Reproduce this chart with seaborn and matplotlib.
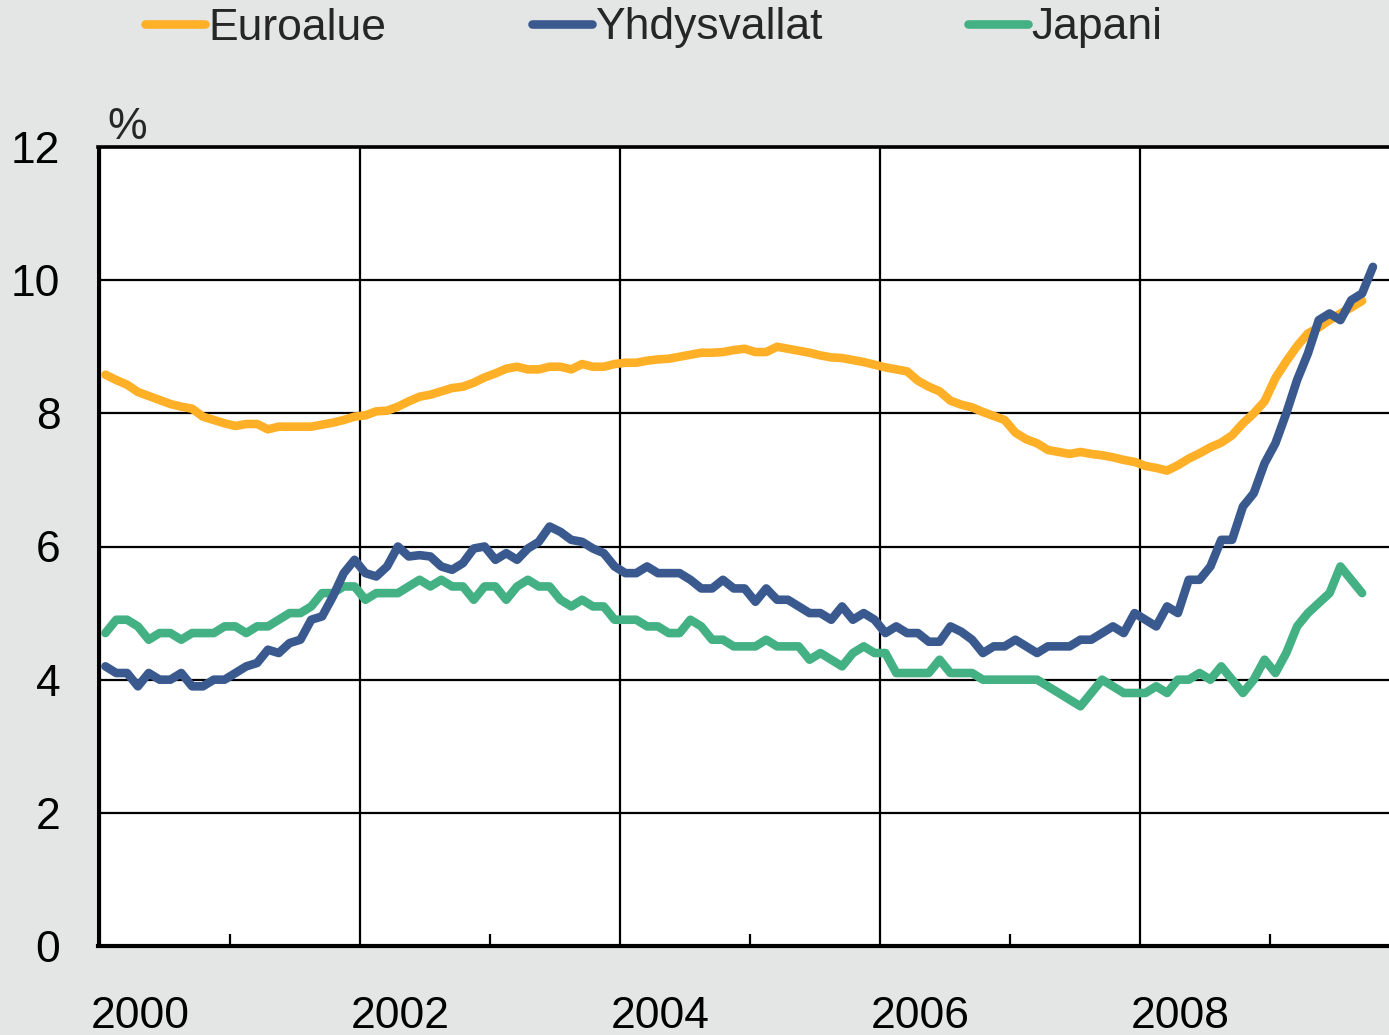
import numpy as np
import pandas as pd
import seaborn as sns
import matplotlib.pyplot as plt
from matplotlib.transforms import ScaledTranslation

# Monthly unemployment rates (%), starting January 2000
euro = [8.58, 8.50, 8.43, 8.32, 8.26, 8.20, 8.14, 8.10, 8.07, 7.95, 7.90, 7.85,
        7.81, 7.84, 7.84, 7.76, 7.80, 7.80, 7.80, 7.80, 7.83, 7.86, 7.90, 7.95,
        7.97, 8.03, 8.04, 8.10, 8.18, 8.25, 8.28, 8.33, 8.38, 8.40, 8.46, 8.54,
        8.60, 8.67, 8.70, 8.66, 8.66, 8.70, 8.70, 8.66, 8.74, 8.70, 8.70, 8.74,
        8.76, 8.76, 8.79, 8.81, 8.82, 8.85, 8.88, 8.91, 8.91, 8.92, 8.95, 8.97,
        8.92, 8.92, 9.00, 8.97, 8.94, 8.91, 8.87, 8.84, 8.83, 8.80, 8.77, 8.73,
        8.69, 8.66, 8.63, 8.49, 8.40, 8.33, 8.19, 8.13, 8.09, 8.02, 7.96, 7.90,
        7.71, 7.61, 7.55, 7.45, 7.42, 7.39, 7.42, 7.39, 7.37, 7.34, 7.30, 7.27,
        7.21, 7.18, 7.14, 7.22, 7.32, 7.40, 7.49, 7.56, 7.67, 7.85, 8.00, 8.18,
        8.53, 8.78, 9.01, 9.20, 9.29, 9.40, 9.50, 9.59, 9.69]

usa = [4.2, 4.1, 4.1, 3.9, 4.1, 4.0, 4.0, 4.1, 3.9, 3.9, 4.0, 4.0,
       4.1, 4.2, 4.25, 4.45, 4.4, 4.55, 4.6, 4.9, 4.95, 5.25, 5.6, 5.8,
       5.6, 5.55, 5.7, 6.0, 5.85, 5.87, 5.85, 5.7, 5.65, 5.75, 5.97, 6.0,
       5.8, 5.9, 5.8, 5.97, 6.07, 6.3, 6.22, 6.1, 6.07, 5.97, 5.9, 5.7,
       5.6, 5.6, 5.7, 5.6, 5.6, 5.6, 5.5, 5.37, 5.37, 5.5, 5.37, 5.37,
       5.17, 5.37, 5.2, 5.2, 5.1, 5.0, 5.0, 4.9, 5.1, 4.9, 5.0, 4.9,
       4.7, 4.8, 4.7, 4.7, 4.57, 4.57, 4.8, 4.72, 4.6, 4.4, 4.5, 4.5,
       4.6, 4.5, 4.4, 4.5, 4.5, 4.5, 4.6, 4.6, 4.7, 4.8, 4.7, 5.0,
       4.9, 4.8, 5.1, 5.0, 5.5, 5.5, 5.7, 6.1, 6.1, 6.6, 6.8, 7.25,
       7.55, 8.0, 8.5, 8.9, 9.4, 9.5, 9.4, 9.7, 9.8, 10.2]

japan = [4.7, 4.9, 4.9, 4.8, 4.6, 4.7, 4.7, 4.6, 4.7, 4.7, 4.7, 4.8,
         4.8, 4.7, 4.8, 4.8, 4.9, 5.0, 5.0, 5.1, 5.3, 5.3, 5.4, 5.4,
         5.2, 5.3, 5.3, 5.3, 5.4, 5.5, 5.4, 5.5, 5.4, 5.4, 5.2, 5.4,
         5.4, 5.2, 5.4, 5.5, 5.4, 5.4, 5.2, 5.1, 5.2, 5.1, 5.1, 4.9,
         4.9, 4.9, 4.8, 4.8, 4.7, 4.7, 4.9, 4.8, 4.6, 4.6, 4.5, 4.5,
         4.5, 4.6, 4.5, 4.5, 4.5, 4.3, 4.4, 4.3, 4.2, 4.4, 4.5, 4.4,
         4.4, 4.1, 4.1, 4.1, 4.1, 4.3, 4.1, 4.1, 4.1, 4.0, 4.0, 4.0,
         4.0, 4.0, 4.0, 3.9, 3.8, 3.7, 3.6, 3.8, 4.0, 3.9, 3.8, 3.8,
         3.8, 3.9, 3.8, 4.0, 4.0, 4.1, 4.0, 4.2, 4.0, 3.8, 4.0, 4.3,
         4.1, 4.4, 4.8, 5.0, 5.15, 5.3, 5.7, 5.5, 5.3]

series_names = ["Euroalue", "Yhdysvallat", "Japani"]
series_values = [euro, usa, japan]
colors = ["#FFB027", "#3A5A8F", "#44B184"]
zorders = [3, 4, 2]

year_ticks = [2000, 2002, 2004, 2006, 2008]
year_labels = ["2000", "2002", "2004", "2006", "2008"]
odd_years = [2001, 2003, 2005, 2007, 2009]
y_ticks = [0, 2, 4, 6, 8, 10, 12]

rows = []
for name, vals in zip(series_names, series_values):
    for i, v in enumerate(vals):
        rows.append({"series": name, "year": 2000 + (i + 0.5) / 12, "value": v})
df = pd.DataFrame(rows)

sns.set_theme(style="white")
plt.rcParams["font.family"] = ["Liberation Sans", "DejaVu Sans"]

W, H = 1389, 1035
fig = plt.figure(figsize=(W / 100, H / 100), dpi=100, facecolor="#E4E6E5")
ax = fig.add_axes([98 / W, 1 - 946 / H, 1 - 98 / W, (946 - 147) / H])
ax.set_facecolor("white")

for name, col, z in zip(series_names, colors, zorders):
    sns.lineplot(data=df[df["series"] == name], x="year", y="value", ax=ax,
                 color=col, lw=6.2, label=name, zorder=z,
                 solid_joinstyle="round", solid_capstyle="round")

ax.set_xlim(2000 - 2 / 130, 2000 + (W - 100) / 130)
ax.set_ylim(0, 12)
ax.set_yticks(y_ticks)
ax.set_yticklabels([str(t) for t in y_ticks])
ax.set_xticks(year_ticks)
ax.set_xticklabels(year_labels)
ax.set_xticks(odd_years, minor=True)
ax.set_xlabel("")
ax.set_ylabel("")

ax.grid(True, which="major", color="black", lw=1.6)
ax.set_axisbelow(True)
ax.tick_params(axis="x", which="major", length=0, pad=36, labelsize=32, colors="black")
ax.tick_params(axis="x", which="minor", direction="in", length=9, width=1.6,
               color="black", bottom=True)
ax.tick_params(axis="y", length=0, pad=27, labelsize=32, colors="black")

for lab in ax.get_xticklabels():
    lab.set_transform(lab.get_transform() + ScaledTranslation(0.40, 0, fig.dpi_scale_trans))

for side in ["left", "bottom", "top"]:
    ax.spines[side].set_visible(True)
    ax.spines[side].set_color("black")
ax.spines["bottom"].set_linewidth(3.0)
ax.spines["left"].set_linewidth(2.2)
ax.spines["top"].set_linewidth(2.6)
ax.spines["right"].set_visible(False)

handles, labels = ax.get_legend_handles_labels()
ax.get_legend().remove()
fig.legend(handles, labels, loc="center left",
           bbox_to_anchor=(145 / W, 1 - 28 / H), bbox_transform=fig.transFigure,
           ncol=3, frameon=False, fontsize=32, handlelength=1.35,
           handletextpad=0.08, columnspacing=3.27, borderpad=0, borderaxespad=0)

fig.text(127 / W, 1 - 127 / H, "%", fontsize=32, ha="center", va="center")

fig.savefig("out.png", dpi=100, facecolor=fig.get_facecolor())
